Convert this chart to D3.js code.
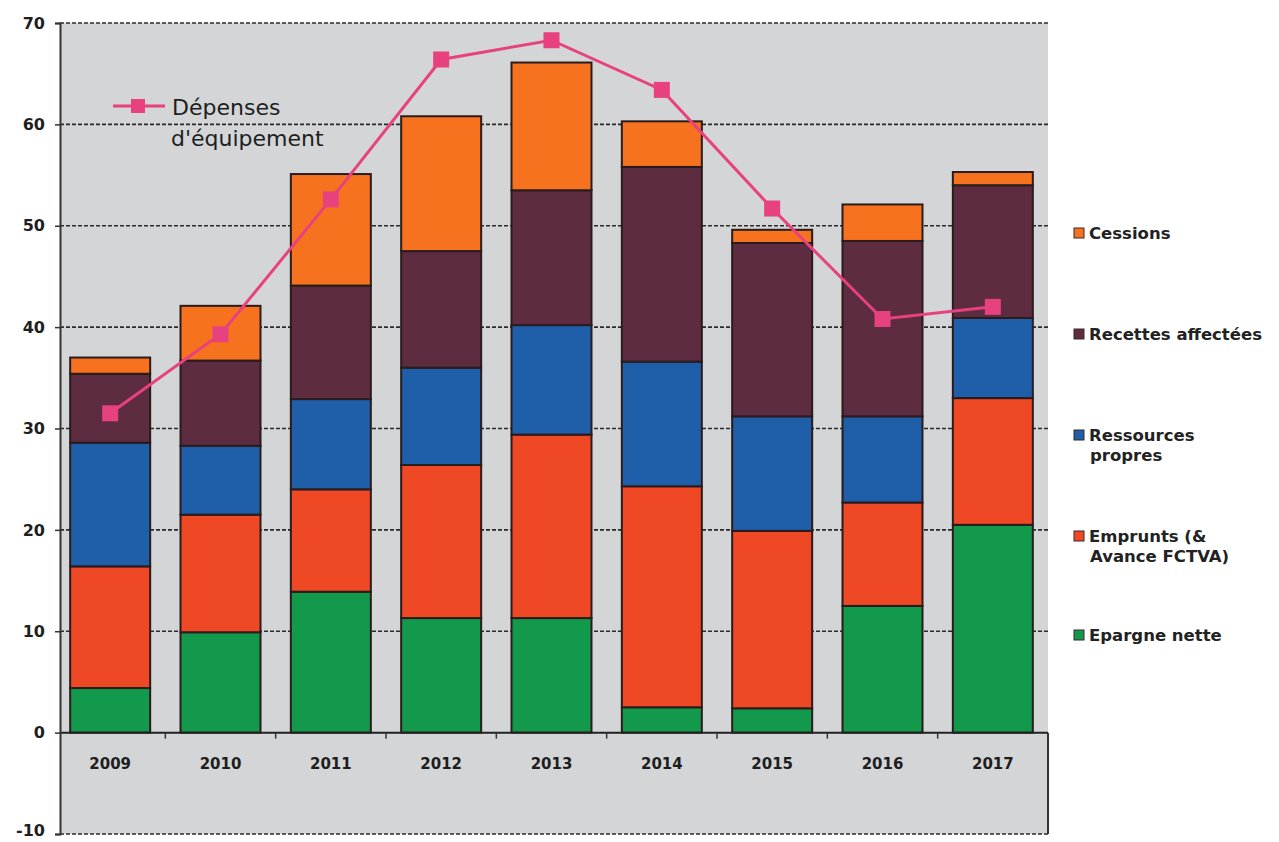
<!DOCTYPE html>
<html>
<head>
<meta charset="utf-8">
<script src="https://cdn.jsdelivr.net/npm/d3@7"></script>
<style>
  html, body { margin: 0; padding: 0; background: #ffffff; }
  svg { display: block; }
  text { font-family: "DejaVu Sans", "Liberation Sans", Arial, sans-serif; }
</style>
</head>
<body>
<svg id="chart" width="1279" height="842"></svg>
<script>
// Financement de l'investissement (M€), 2009-2017
const years = ["2009", "2010", "2011", "2012", "2013", "2014", "2015", "2016", "2017"];

const epargneNette       = [4.4, 9.9, 13.9, 11.3, 11.3, 2.5, 2.4, 12.5, 20.5];
const emprunts           = [12.0, 11.6, 10.1, 15.1, 18.1, 21.8, 17.5, 10.2, 12.5];
const ressourcesPropres  = [12.2, 6.8, 8.9, 9.6, 10.8, 12.3, 11.3, 8.5, 7.9];
const recettesAffectees  = [6.8, 8.4, 11.2, 11.5, 13.3, 19.2, 17.1, 17.3, 13.1];
const cessions           = [1.6, 5.4, 11.0, 13.3, 12.6, 4.5, 1.3, 3.6, 1.3];

const depensesEquipement = [31.5, 39.3, 52.6, 66.4, 68.3, 63.4, 51.7, 40.8, 42.0];

const yTicks = [-10, 0, 10, 20, 30, 40, 50, 60, 70];

const seriesKeys = ["epargne", "emprunts", "ressources", "recettes", "cessions"];
const seriesColors = {
  epargne: "#12994c",
  emprunts: "#ee4824",
  ressources: "#1f5ea9",
  recettes: "#5e2c40",
  cessions: "#f7721f"
};
const legendItems = [
  { key: "cessions",   lines: ["Cessions"] },
  { key: "recettes",   lines: ["Recettes affectées"] },
  { key: "ressources", lines: ["Ressources", "propres"] },
  { key: "emprunts",   lines: ["Emprunts (&", "Avance FCTVA)"] },
  { key: "epargne",    lines: ["Epargne nette"] }
];

const rows = years.map((y, i) => ({
  year: y,
  epargne: epargneNette[i],
  emprunts: emprunts[i],
  ressources: ressourcesPropres[i],
  recettes: recettesAffectees[i],
  cessions: cessions[i]
}));

const svg = d3.select("#chart");

const plotLeft = 60, plotRight = 1048, plotTop = 23, plotBottom = 834;

const y = d3.scaleLinear().domain([-10, 70]).range([plotBottom, plotTop]);
const x = d3.scaleBand().domain(years).range([55, 1048])
  .paddingInner(0.275).paddingOuter(0.1375);

// plot background
svg.append("rect")
  .attr("x", plotLeft).attr("y", plotTop)
  .attr("width", plotRight - plotLeft).attr("height", plotBottom - plotTop)
  .attr("fill", "#d3d5d6");

// dashed gridlines
svg.append("g").selectAll("line")
  .data(yTicks.filter(t => t !== 0))
  .join("line")
  .attr("x1", plotLeft).attr("x2", plotRight)
  .attr("y1", d => y(d)).attr("y2", d => y(d))
  .attr("stroke", "#2b2b2b")
  .attr("stroke-width", 1.6)
  .attr("stroke-dasharray", "4,2");

// right border below zero line
svg.append("line")
  .attr("x1", plotRight).attr("x2", plotRight)
  .attr("y1", y(0)).attr("y2", plotBottom)
  .attr("stroke", "#333").attr("stroke-width", 2);

// stacked bars
const stack = d3.stack().keys(seriesKeys);
const stacked = stack(rows);

svg.append("g").selectAll("g")
  .data(stacked)
  .join("g")
  .attr("fill", d => seriesColors[d.key])
  .selectAll("rect")
  .data(d => d)
  .join("rect")
  .attr("x", d => x(d.data.year))
  .attr("width", x.bandwidth())
  .attr("y", d => y(d[1]))
  .attr("height", d => y(d[0]) - y(d[1]))
  .attr("stroke", "#2a1b1c")
  .attr("stroke-width", 2);

// zero axis line
svg.append("line")
  .attr("x1", plotLeft).attr("x2", plotRight)
  .attr("y1", y(0)).attr("y2", y(0))
  .attr("stroke", "#222").attr("stroke-width", 2);

// left axis
const yAxis = d3.axisLeft(y).tickValues(yTicks).tickSize(5).tickPadding(10)
  .tickFormat(d => d);
const gy = svg.append("g").attr("transform", `translate(${plotLeft},0)`).call(yAxis);
gy.select(".domain").attr("stroke", "#333").attr("stroke-width", 2);
gy.selectAll(".tick line").attr("stroke", "#333").attr("stroke-width", 1.5);
gy.selectAll(".tick text")
  .attr("font-size", 16).attr("font-weight", "bold").attr("fill", "#1e1e1e")
  .attr("font-family", "DejaVu Sans, sans-serif")
  .attr("dy", d => d === -10 ? "0.1em" : "0.32em");

// category tick marks between bars
const boundaries = years.slice(1).map(yr => x(yr) - x.step() * x.paddingInner() / 2);
svg.append("g").selectAll("line")
  .data(boundaries)
  .join("line")
  .attr("x1", d => d).attr("x2", d => d)
  .attr("y1", y(0)).attr("y2", y(0) + 6)
  .attr("stroke", "#333").attr("stroke-width", 1.5);

// category labels
svg.append("g").selectAll("text")
  .data(years)
  .join("text")
  .attr("x", d => x(d) + x.bandwidth() / 2)
  .attr("y", y(0) + 36)
  .attr("text-anchor", "middle")
  .attr("font-size", 15).attr("font-weight", "bold").attr("fill", "#1e1e1e")
  .text(d => d);

// Dépenses d'équipement line
const lineColor = "#e8417f";
const line = d3.line()
  .x((d, i) => x(years[i]) + x.bandwidth() / 2)
  .y(d => y(d));
svg.append("path")
  .datum(depensesEquipement)
  .attr("d", line)
  .attr("fill", "none")
  .attr("stroke", lineColor)
  .attr("stroke-width", 3);
svg.append("g").selectAll("rect")
  .data(depensesEquipement)
  .join("rect")
  .attr("x", (d, i) => x(years[i]) + x.bandwidth() / 2 - 8)
  .attr("y", d => y(d) - 8)
  .attr("width", 16).attr("height", 16)
  .attr("fill", lineColor);

// line legend
const lg = svg.append("g");
lg.append("line").attr("x1", 113).attr("x2", 165).attr("y1", 106).attr("y2", 106)
  .attr("stroke", lineColor).attr("stroke-width", 3);
lg.append("rect").attr("x", 131).attr("y", 99).attr("width", 14).attr("height", 14)
  .attr("fill", lineColor);
lg.append("text").attr("x", 172).attr("y", 115)
  .attr("font-size", 22).attr("fill", "#1e1e1e").text("Dépenses");
lg.append("text").attr("x", 171).attr("y", 146)
  .attr("font-size", 22).attr("fill", "#1e1e1e").text("d'équipement");

// series legend
const legendY = { cessions: 234, recettes: 335, ressources: 436, emprunts: 537, epargne: 636 };
const leg = svg.append("g").selectAll("g")
  .data(legendItems)
  .join("g")
  .attr("transform", d => `translate(1074,${legendY[d.key]})`);
leg.append("rect")
  .attr("x", 0).attr("y", -6).attr("width", 10).attr("height", 10)
  .attr("fill", d => seriesColors[d.key])
  .attr("stroke", "#3a2a2a").attr("stroke-width", 1);
leg.append("text")
  .attr("x", 15).attr("y", 5)
  .attr("font-size", 16.5).attr("font-weight", "bold").attr("fill", "#222")
  .selectAll("tspan")
  .data(d => d.lines)
  .join("tspan")
  .attr("x", (d, i) => i === 0 ? 15 : 16)
  .attr("dy", (d, i) => i === 0 ? 0 : 20)
  .text(d => d);
</script>
</body>
</html>
